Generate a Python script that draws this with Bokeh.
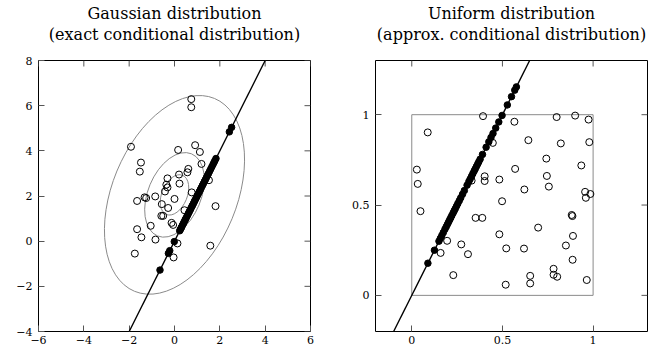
import numpy as np
from bokeh.plotting import figure
from bokeh.models import LinearAxis, FixedTicker, Slope
from bokeh.layouts import row
from bokeh.embed import file_html
from bokeh.resources import INLINE

# ---------------- Gaussian panel data ----------------
gauss_title = ["Gaussian distribution", "(exact conditional distribution)"]
gauss_open_x = [0.74, 0.74, -1.92, -1.48, -1.53, 0.16, 0.91, 1.12, 1.19, 0.61, 0.57, 0.20,
                -0.31, -0.36, -0.31, 0.22, -0.42, -1.65, -1.32, -1.25, -0.85, 0.00, -0.56,
                -0.28, 0.76, 1.81, -0.58, -0.50, 0.44, -0.13, -0.06, -1.05, -1.65, -1.46,
                -0.84, 1.58, -1.75, 0.13, -0.04, 1.52]
gauss_open_y = [6.29, 5.93, 4.18, 3.48, 3.08, 4.04, 4.25, 3.95, 3.42, 3.20, 3.05, 2.95,
                2.78, 2.50, 2.38, 2.55, 2.20, 1.78, 1.94, 1.91, 1.98, 1.87, 1.64,
                1.47, 2.16, 1.55, 1.12, 1.12, 1.37, 0.81, 0.72, 0.68, 0.53, 0.17,
                0.07, -0.20, -0.55, -0.10, -0.72, 2.70]
gauss_cond_x = [-0.64, -0.27, -0.21, -0.01, 0.23, 0.26, 0.29, 0.31, 0.35, 0.38, 0.41, 0.45,
                0.48, 0.51, 0.55, 0.58, 0.62, 0.65, 0.69, 0.72, 0.76, 0.79, 0.83, 0.87,
                0.90, 0.94, 0.98, 1.02, 1.06, 1.10, 1.14, 1.18, 1.23, 1.27, 1.32, 1.36,
                1.41, 1.46, 1.50, 1.55, 1.60, 1.65, 1.70, 1.74, 1.78, 1.83, 2.42, 2.52]
gauss_cond_y = [-1.28, -0.54, -0.42, -0.02, 0.46, 0.52, 0.58, 0.62, 0.70, 0.76, 0.82, 0.90,
                0.96, 1.02, 1.10, 1.16, 1.24, 1.30, 1.38, 1.44, 1.52, 1.58, 1.66, 1.74,
                1.80, 1.88, 1.96, 2.04, 2.12, 2.20, 2.28, 2.36, 2.46, 2.54, 2.64, 2.72,
                2.82, 2.92, 3.00, 3.10, 3.20, 3.30, 3.40, 3.48, 3.56, 3.66, 4.84, 5.04]
gauss_mean = [0.0, 2.05]
gauss_cov = [[1.0, 0.5], [0.5, 2.0]]
gauss_levels = [0.63, 1.32, 3.1]
gauss_xticks = [-6, -4, -2, 0, 2, 4, 6]
gauss_yticks = [-4, -2, 0, 2, 4, 6, 8]
gauss_xrange = [-6, 6]
gauss_yrange = [-4, 8]

# ---------------- Uniform panel data ----------------
unif_title = ["Uniform distribution", "(approx. conditional distribution)"]
unif_open_x = [0.393, 0.566, 0.799, 0.901, 0.975, 0.088, 0.643, 0.822, 0.979, 0.447,
               0.742, 0.935, 0.028, 0.570, 0.033, 0.402, 0.402, 0.483, 0.330, 0.745,
               0.621, 0.756, 0.956, 0.985, 0.960, 0.048, 0.498, 0.352, 0.389, 0.483,
               0.521, 0.619, 0.882, 0.886, 0.697, 0.889, 0.850, 0.195, 0.273, 0.310,
               0.159, 0.229, 0.518, 0.887, 0.782, 0.782, 0.802, 0.653, 0.653, 0.965]
unif_open_y = [0.992, 0.961, 0.987, 0.995, 0.973, 0.902, 0.859, 0.841, 0.848, 0.844,
               0.757, 0.719, 0.696, 0.700, 0.617, 0.659, 0.633, 0.641, 0.635, 0.661,
               0.586, 0.602, 0.573, 0.561, 0.540, 0.466, 0.521, 0.429, 0.429, 0.338,
               0.260, 0.259, 0.445, 0.439, 0.375, 0.329, 0.276, 0.302, 0.282, 0.228,
               0.235, 0.112, 0.059, 0.197, 0.147, 0.114, 0.103, 0.108, 0.066, 0.085]
unif_cond_x = [0.089, 0.125, 0.150, 0.158, 0.166, 0.174, 0.183, 0.190, 0.197, 0.203,
               0.209, 0.215, 0.221, 0.228, 0.234, 0.240, 0.247, 0.254, 0.262, 0.270,
               0.280, 0.290, 0.305, 0.315, 0.322, 0.330, 0.337, 0.344, 0.350, 0.357,
               0.364, 0.370, 0.377, 0.390, 0.410, 0.425, 0.437, 0.448, 0.463, 0.480,
               0.498, 0.527, 0.550, 0.568, 0.577]
unif_cond_y = [0.178, 0.250, 0.300, 0.316, 0.332, 0.348, 0.366, 0.380, 0.394, 0.406,
               0.418, 0.430, 0.442, 0.456, 0.468, 0.480, 0.494, 0.508, 0.524, 0.540,
               0.560, 0.580, 0.610, 0.630, 0.644, 0.660, 0.674, 0.688, 0.700, 0.714,
               0.728, 0.740, 0.754, 0.780, 0.820, 0.850, 0.874, 0.896, 0.926, 0.960,
               0.996, 1.054, 1.100, 1.136, 1.154]
unif_support = dict(left=[0.0], right=[1.0], bottom=[0.0], top=[1.0])
unif_ticks = [0, 0.5, 1]
unif_labels = {0: "0", 0.5: "0.5", 1: "1"}
unif_range = [-0.2, 1.3]

cond_slope = 2.0
cond_intercept = 0.0

FONT = "DejaVu Serif"
TICK_FS = "11px"
TITLE_FS = "16px"
TICK_COLOR = "#555555"
TICK_LEN = 6
FRAME_W, FRAME_H = 272, 271
TITLE_STANDOFFS = [-1, 17]   # outer line, inner line


def minus(v):
    return ("%g" % v).replace("-", "\u2212")


def make_fig(xr, yr, xticks, yticks, titles, left_border, right_border, labels=None):
    p = figure(x_range=tuple(xr), y_range=tuple(yr), frame_width=FRAME_W, frame_height=FRAME_H,
               output_backend="svg", toolbar_location=None,
               min_border_left=left_border, min_border_right=right_border,
               min_border_top=59, min_border_bottom=10,
               x_axis_location=None, y_axis_location=None)
    p.grid.visible = False
    p.outline_line_color = "black"
    p.outline_line_width = 1
    p.background_fill_color = "white"
    p.border_fill_color = "white"

    xo = labels if labels else {t: minus(t) for t in xticks}
    yo = labels if labels else {t: minus(t) for t in yticks}

    def axis(ticks, overrides, standoff):
        a = LinearAxis(ticker=FixedTicker(ticks=ticks), major_label_overrides=overrides)
        a.axis_line_color = None
        a.major_tick_in = TICK_LEN
        a.major_tick_out = 0
        a.minor_tick_line_color = None
        a.major_tick_line_color = TICK_COLOR
        a.major_tick_line_width = 1
        a.major_label_text_font = FONT
        a.major_label_text_font_size = TICK_FS
        a.major_label_text_color = "black"
        a.major_label_standoff = standoff
        return a

    p.add_layout(axis(xticks, xo, 4), "below")
    p.add_layout(axis(yticks, yo, 6), "left")

    # mirrored inward ticks on the top and right frame edges
    p.ray(x=xticks, y=[yr[1]] * len(xticks), length=TICK_LEN, length_units="screen",
          angle=-np.pi / 2, line_color=TICK_COLOR, line_width=1)
    p.ray(x=[xr[1]] * len(yticks), y=yticks, length=TICK_LEN, length_units="screen",
          angle=np.pi, line_color=TICK_COLOR, line_width=1)

    # two-line title: each line is the label of a tick-less axis above the frame
    for text, standoff in zip(reversed(titles), reversed(TITLE_STANDOFFS)):
        t = LinearAxis(ticker=FixedTicker(ticks=[]), axis_label=text)
        t.axis_line_color = None
        t.major_tick_line_color = None
        t.minor_tick_line_color = None
        t.major_tick_in = 0
        t.major_tick_out = 0
        t.major_label_standoff = 0
        t.major_label_text_font_size = "0px"
        t.axis_label_text_font = FONT
        t.axis_label_text_font_size = TITLE_FS
        t.axis_label_text_font_style = "normal"
        t.axis_label_text_color = "black"
        t.axis_label_standoff = standoff
        p.add_layout(t, "above")
    return p


# ---------------- left figure ----------------
p1 = make_fig(gauss_xrange, gauss_yrange, gauss_xticks, gauss_yticks, gauss_title, 38, 30)
cov = np.array(gauss_cov)
evals, evecs = np.linalg.eigh(cov)
major = evecs[:, 1]
ang = float(np.arctan2(major[1], major[0]))
widths = [2 * r * np.sqrt(evals[1]) for r in gauss_levels]
heights = [2 * r * np.sqrt(evals[0]) for r in gauss_levels]
p1.ellipse(x=[gauss_mean[0]] * len(gauss_levels), y=[gauss_mean[1]] * len(gauss_levels),
           width=widths, height=heights, angle=ang,
           fill_color=None, line_color="#8a8a8a", line_width=1)
p1.scatter(gauss_open_x, gauss_open_y, marker="circle", size=7, fill_color=None,
           line_color="black", line_width=1)
p1.add_layout(Slope(gradient=cond_slope, y_intercept=cond_intercept,
                    line_color="black", line_width=1.4))
p1.scatter(gauss_cond_x, gauss_cond_y, marker="circle", size=6.5, fill_color="black",
           line_color="black", line_width=1)

# ---------------- right figure ----------------
p2 = make_fig(unif_range, unif_range, unif_ticks, unif_ticks, unif_title, 35, 14,
              labels=unif_labels)
p2.quad(left=unif_support["left"], right=unif_support["right"],
        bottom=unif_support["bottom"], top=unif_support["top"],
        fill_color=None, line_color="#8a8a8a", line_width=1)
p2.scatter(unif_open_x, unif_open_y, marker="circle", size=7, fill_color=None,
           line_color="black", line_width=1)
p2.add_layout(Slope(gradient=cond_slope, y_intercept=cond_intercept,
                    line_color="black", line_width=1.4))
p2.scatter(unif_cond_x, unif_cond_y, marker="circle", size=6.5, fill_color="black",
           line_color="black", line_width=1)

layout = row(p1, p2)
open("out.html", "w").write(file_html(layout, INLINE))
